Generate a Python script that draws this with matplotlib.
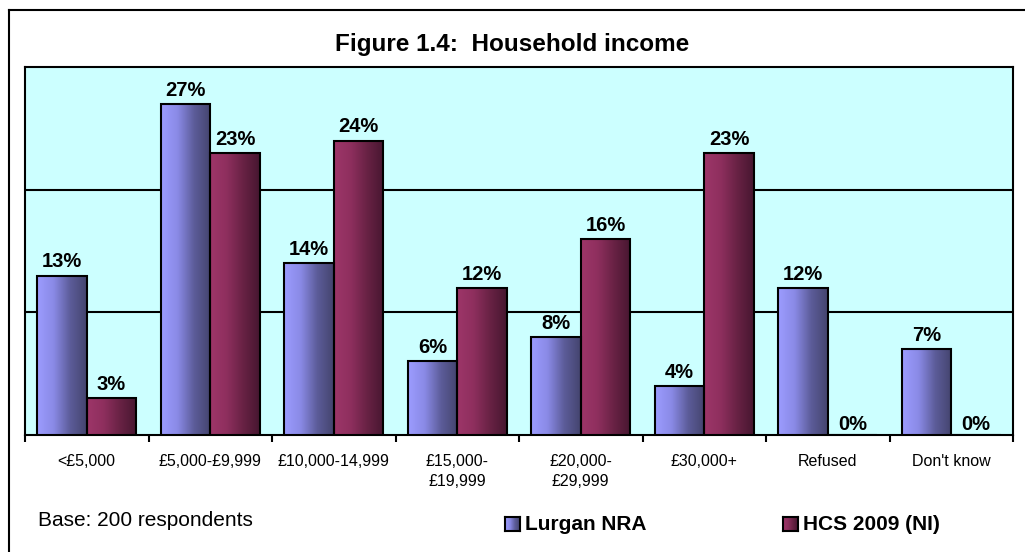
import numpy as np
import matplotlib
matplotlib.use("Agg")
import matplotlib.pyplot as plt
from matplotlib.colors import LinearSegmentedColormap
from matplotlib.lines import Line2D

plt.rcParams['font.family'] = ['Liberation Sans', 'DejaVu Sans']

#%% data
categories = ['<£5,000', '£5,000-£9,999', '£10,000-14,999', '£15,000-\n£19,999',
              '£20,000-\n£29,999', '£30,000+', 'Refused', "Don't know"]
lurgan  = [13, 27, 14, 6, 8, 4, 12, 7]
hcs     = [3, 23, 24, 12, 16, 23, 0, 0]
series  = ['Lurgan NRA', 'HCS 2009 (NI)']

blue_cm = LinearSegmentedColormap.from_list('b', ['#9C9CFF', '#8A8AE6', '#5C5C99', '#44446E'])
red_cm  = LinearSegmentedColormap.from_list('r', ['#9E3669', '#8E2F5E', '#682244', '#461630'])
grad    = np.linspace(0, 1, 256).reshape(1, -1)

W, H = 1025, 552
fig = plt.figure(figsize=(W/100, H/100), dpi=100)
fig.patch.set_facecolor('white')

# outer chart frame (runs off the right/bottom edge)
fig.add_artist(Line2D([9/W, 1], [1-10/H, 1-10/H], color='black', lw=1.5))
fig.add_artist(Line2D([9/W, 9/W], [0, 1-10/H], color='black', lw=1.5))

ax = fig.add_axes([25/W, (H-435)/H, (1013-25)/W, (435-67)/H])
ax.set_facecolor('#CCFFFF')

x  = np.arange(len(categories))
bw = 0.4

def gradient_bars(xs, vals, cmap):
    bars = ax.bar(xs, vals, bw, align='edge', facecolor='none',
                  edgecolor='black', linewidth=1.5, zorder=4)
    for b in bars:
        x0, w, h = b.get_x(), b.get_width(), b.get_height()
        if h > 0:
            ax.imshow(grad, cmap=cmap, extent=[x0, x0+w, 0, h], aspect='auto',
                      interpolation='bicubic', zorder=3)
    return bars

b1 = gradient_bars(x - bw, lurgan, blue_cm)
b2 = gradient_bars(x, hcs, red_cm)

for bars in (b1, b2):
    for b in bars:
        h = b.get_height()
        ax.annotate(f'{int(h)}%', (b.get_x() + b.get_width()/2, h),
                    xytext=(0, 3 if h > 0 else 1), textcoords='offset points',
                    ha='center', va='bottom', fontsize=14.5, fontweight='bold', zorder=5)

ax.set_xlim(-0.5, len(categories) - 0.5)
ax.set_ylim(0, 30)
for yv in (10, 20):
    ax.axhline(yv, color='black', lw=1.5, zorder=1)

ax.set_yticks([])
ax.set_xticks(x)
ax.set_xticklabels(categories, fontsize=11.5, linespacing=1.4)
ax.set_xticks(np.arange(-0.5, len(categories)), minor=True)
ax.tick_params(axis='x', which='major', length=0, pad=14)
ax.tick_params(axis='x', which='minor', length=5, width=1.5, direction='out')
for s in ax.spines.values():
    s.set_linewidth(1.5)
    s.set_color('black')

fig.text(512/W, 1-45/H, 'Figure 1.4:  Household income', ha='center', va='center',
         fontsize=17.5, fontweight='bold')
fig.text(38/W, 1-520/H, 'Base: 200 respondents', ha='left', va='center', fontsize=15)

# legend
for sx, label, cmap in ((505, series[0], blue_cm), (783, series[1], red_cm)):
    lax = fig.add_axes([sx/W, 1-531/H, 15/W, 14/H])
    lax.imshow(grad, cmap=cmap, aspect='auto', extent=[0, 1, 0, 1])
    lax.set_xticks([]); lax.set_yticks([])
    for s in lax.spines.values():
        s.set_linewidth(1.5)
    fig.text((sx+20)/W, 1-524/H, label, ha='left', va='center', fontsize=15, fontweight='bold')

fig.savefig('out.png', dpi=100)
